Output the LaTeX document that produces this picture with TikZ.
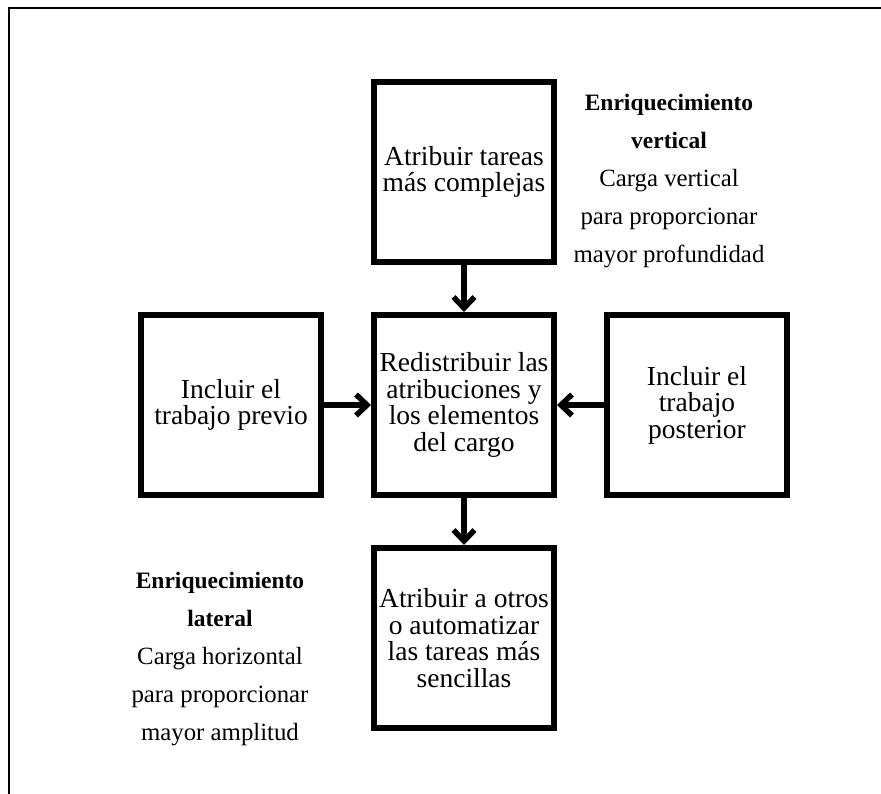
\documentclass[tikz,border=0pt]{standalone}
\usepackage{fontspec}
\setmainfont{Liberation Serif}
\newfontfamily\boxfont{Liberation Serif}
\usetikzlibrary{arrows.meta}
\tikzset{
  stepbox/.style={draw, line width=6pt, minimum width=180pt, minimum height=180pt,
    inner sep=0pt, align=center, font={\boxfont\fontsize{27.5}{26.5}\selectfont}},
  arr/.style={line width=5.5pt, -{Straight Barb[length=11pt,width=21pt]}},
  sidehead/.style={anchor=base, inner sep=0pt, font={\bfseries\fontsize{23.5}{28}\selectfont}},
  sidetext/.style={anchor=base, inner sep=0pt, font={\fontsize{24.8}{28}\selectfont}},
  frameline/.style={line width=2.6pt}
}
\begin{document}
\begin{tikzpicture}[x=1pt,y=-1pt]
\useasboundingbox (0,0) rectangle (881,794);
\coordinate (fa) at (9,800);
\coordinate (fb) at (9,8);
\coordinate (fc) at (890,8);
\draw[frameline] (fa) -- (fb) -- (fc);

\node[stepbox] (top) at (464,172) {Atribuir tareas\\más complejas};
\node[stepbox] (ctr) at (464,405) {Redistribuir las\\atribuciones y\\los elementos\\del cargo};
\node[stepbox] (bot) at (464,638) {Atribuir a otros\\o automatizar\\las tareas más\\sencillas};
\node[stepbox] (lft) at (231,405) {Incluir el\\trabajo previo};
\node[stepbox] (rgt) at (697,405) {Incluir el\\trabajo\\posterior};

\draw[arr] (top.south) -- (ctr.north);
\draw[arr] (lft.east) -- (ctr.west);
\draw[arr] (rgt.west) -- (ctr.east);
\draw[arr] (ctr.south) -- (bot.north);

\node[sidehead] (v1) at (669,111) {Enriquecimiento};
\node[sidehead] (v2) at (669,149) {vertical};
\node[sidetext] (v3) at (669,187) {Carga vertical};
\node[sidetext] (v4) at (669,225) {para proporcionar};
\node[sidetext] (v5) at (669,263) {mayor profundidad};

\node[sidehead] (l1) at (220,588) {Enriquecimiento};
\node[sidehead] (l2) at (220,626) {lateral};
\node[sidetext] (l3) at (220,664) {Carga horizontal};
\node[sidetext] (l4) at (220,702) {para proporcionar};
\node[sidetext] (l5) at (220,740) {mayor amplitud};
\end{tikzpicture}
\end{document}
